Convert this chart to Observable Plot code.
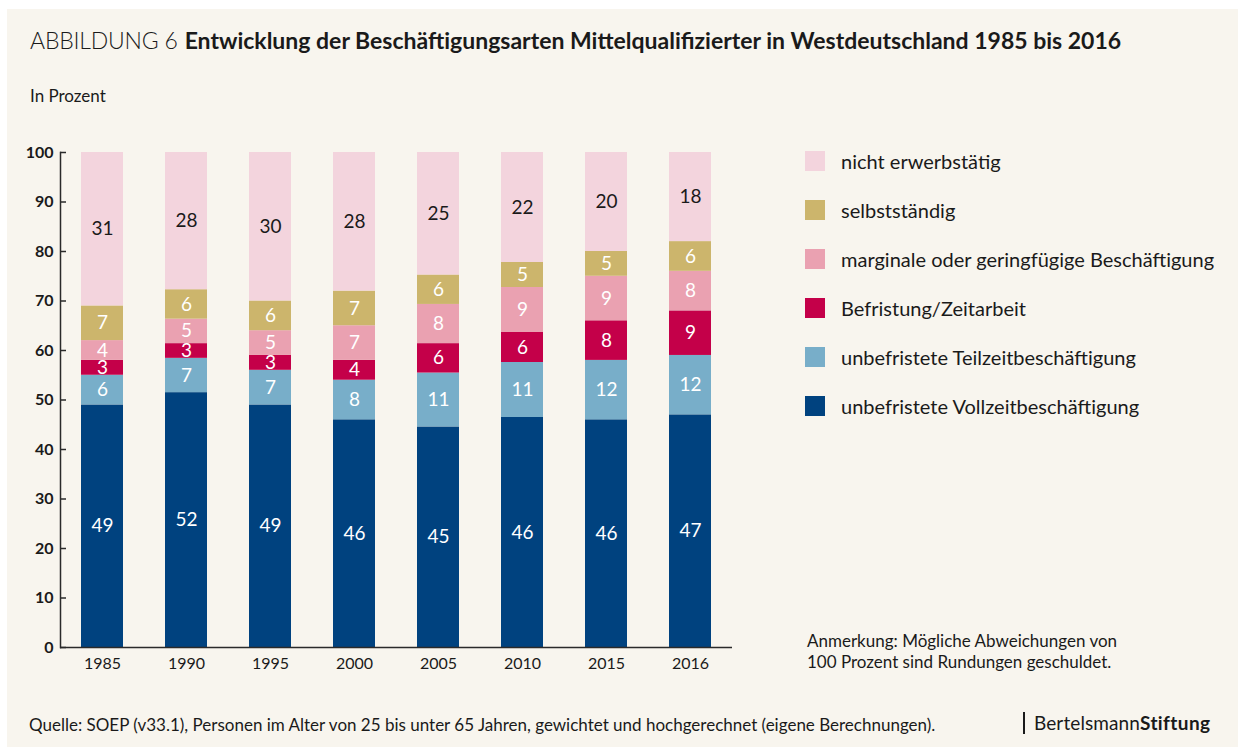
<!DOCTYPE html>
<html>
<head>
<meta charset="utf-8">
<script src="https://cdn.jsdelivr.net/npm/d3@7"></script>
<script src="https://cdn.jsdelivr.net/npm/@observablehq/plot@0.6"></script>
<style>
  html, body { margin: 0; padding: 0; background: #ffffff; }
  #page { position: relative; width: 1238px; height: 747px; overflow: hidden; font-family: Lato, "Open Sans", sans-serif; color: #1a1a1a; }
  #panel { position: absolute; left: 7px; top: 9px; width: 1231px; height: 738px; background: #f8f5ee; }
  #chart { position: absolute; left: 0; top: 0; }
  .abs { position: absolute; white-space: nowrap; line-height: 1; }
  #title { left: 30px; top: 29px; font-size: 23px; }
  #title .pre { font-weight: 300; letter-spacing: -0.2px; }
  #title .main { font-weight: 700; margin-left: 7px; }
  #unit { left: 30px; top: 87px; font-size: 17px; }
  #legend { position: absolute; left: 805px; top: 151px; }
  .item { position: absolute; left: 0; height: 20px; }
  .sw { position: absolute; left: 0; top: 0; width: 20px; height: 20px; }
  .lab { position: absolute; left: 36px; top: 0px; font-size: 20px; line-height: 20px; white-space: nowrap; }
  #note { left: 807px; top: 630px; font-size: 17px; line-height: 21px; }
  #source { left: 29px; top: 716px; font-size: 17px; }
  #logo { left: 1023px; top: 712px; height: 22px; border-left: 2px solid #1a1a1a; padding-left: 9px; font-size: 19px; line-height: 22px; letter-spacing: 0.1px; }
  #logo b { font-weight: 700; letter-spacing: 0.4px; }
</style>
</head>
<body>
<div id="page">
  <div id="panel"></div>
  <div id="title" class="abs"><span class="pre">ABBILDUNG 6</span><span class="main">Entwicklung der Beschäftigungsarten Mittelqualifizierter in Westdeutschland 1985 bis 2016</span></div>
  <div id="unit" class="abs">In Prozent</div>
  <div id="chart"></div>
  <div id="legend"></div>
  <div id="note" class="abs">Anmerkung: Mögliche Abweichungen von<br>100 Prozent sind Rundungen geschuldet.</div>
  <div id="source" class="abs">Quelle: SOEP (v33.1), Personen im Alter von 25 bis unter 65 Jahren, gewichtet und hochgerechnet (eigene Berechnungen).</div>
  <div id="logo" class="abs">Bertelsmann<b>Stiftung</b></div>
</div>
<script>
// ---- data ----
const years = ["1985", "1990", "1995", "2000", "2005", "2010", "2015", "2016"];
// stacking order, bottom to top
const categories = [
  "unbefristete Vollzeitbeschäftigung",
  "unbefristete Teilzeitbeschäftigung",
  "Befristung/Zeitarbeit",
  "marginale oder geringfügige Beschäftigung",
  "selbstständig",
  "nicht erwerbstätig"
];
const colors = ["#00427f", "#78aec9", "#c40049", "#eaa1b1", "#ccb56c", "#f3d4dd"];
const vollzeit   = [49, 52, 49, 46, 45, 46, 46, 47];
const teilzeit   = [6, 7, 7, 8, 11, 11, 12, 12];
const befristung = [3, 3, 3, 4, 6, 6, 8, 9];
const marginal   = [4, 5, 5, 7, 8, 9, 9, 8];
const selbst     = [7, 6, 6, 7, 6, 5, 5, 6];
const nicht      = [31, 28, 30, 28, 25, 22, 20, 18];
const yTicks = [0, 10, 20, 30, 40, 50, 60, 70, 80, 90, 100];

const series = [vollzeit, teilzeit, befristung, marginal, selbst, nicht];
const data = [];
categories.forEach((cat, ci) => {
  years.forEach((year, yi) => data.push({year, cat, value: series[ci][yi]}));
});
const topCat = categories[categories.length - 1];
const tickProps = yTicks.map(t => t / 100);

const stackOpts = {offset: "normalize", x: "year", y: "value"};

const chart = Plot.plot({
  width: 1238,
  height: 747,
  marginTop: 152,
  marginBottom: 100,
  marginLeft: 60,
  marginRight: 506,
  style: {background: "transparent", fontFamily: "Lato, 'Open Sans', sans-serif", color: "#1a1a1a"},
  x: {domain: years, paddingInner: 0.5, paddingOuter: 0.25, label: null},
  y: {domain: [0, 1], label: null},
  color: {domain: categories, range: colors},
  marks: [
    Plot.barY(data, Plot.stackY({...stackOpts, fill: "cat"})),
    Plot.text(data, Plot.filter(d => d.cat !== topCat, Plot.stackY({...stackOpts, text: d => String(d.value), fill: "white", fontSize: 19}))),
    Plot.text(data, Plot.filter(d => d.cat === topCat, Plot.stackY({...stackOpts, text: d => String(d.value), fill: "#1a1a1a", fontSize: 19}))),
    Plot.frame({anchor: "left", stroke: "#2a2a2a", strokeWidth: 1.5}),
    Plot.ruleY([0], {stroke: "#2a2a2a", strokeWidth: 1.5}),
    Plot.axisY(tickProps, {tickSize: 6, dx: 6, tickFormat: () => "", stroke: "#2a2a2a", strokeWidth: 1.5, label: null}),
    Plot.axisY(tickProps, {tickSize: 0, tickPadding: 7, tickFormat: d => String(Math.round(d * 100)), fontSize: 16, fontWeight: "bold", fill: "#1a1a1a", label: null}),
    Plot.axisX({tickSize: 0, tickPadding: 10, fontSize: 16, fill: "#1a1a1a", label: null})
  ]
});
document.getElementById("chart").appendChild(chart);

// legend (top to bottom = reverse stacking order)
const legend = document.getElementById("legend");
const legendCats = categories.slice().reverse();
const legendColors = colors.slice().reverse();
legendCats.forEach((cat, i) => {
  const item = document.createElement("div");
  item.className = "item";
  item.style.top = (i * 49) + "px";
  const sw = document.createElement("div");
  sw.className = "sw";
  sw.style.background = legendColors[i];
  const lab = document.createElement("div");
  lab.className = "lab";
  lab.textContent = cat;
  item.appendChild(sw);
  item.appendChild(lab);
  legend.appendChild(item);
});
</script>
</body>
</html>
